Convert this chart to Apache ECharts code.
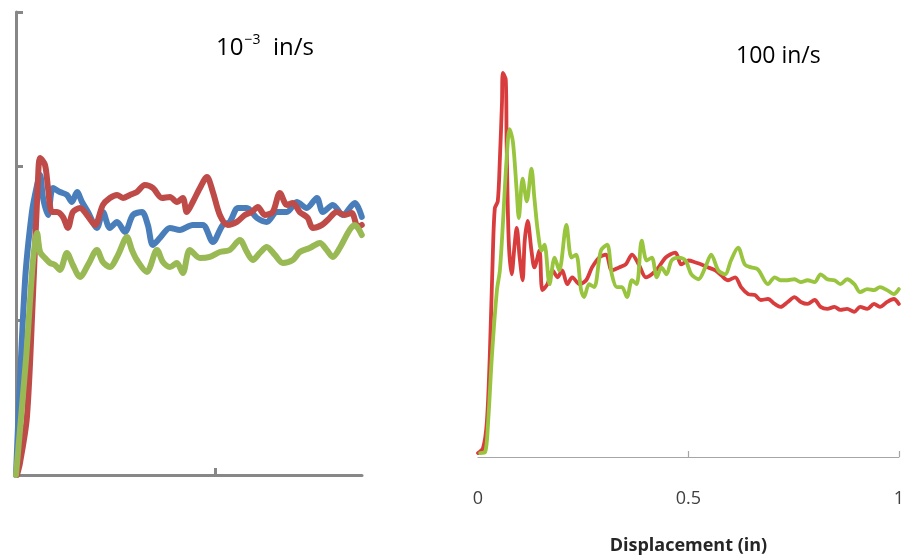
<!DOCTYPE html>
<html>
<head>
<meta charset="utf-8">
<script src="https://cdn.jsdelivr.net/npm/echarts@6/dist/echarts.min.js"></script>
<style>html,body{margin:0;padding:0;background:#fff}#c{width:907px;height:560px}</style>
</head>
<body>
<div id="c"></div>
<script>
// ---- Left panel (10^-3 in/s) ----
const slowTitleBase = '10';
const slowTitleExp = '−3';
const slowTitleUnit = '  in/s';
const leftBlueX = [0,4.5,8.0,10.6,12.1,13.6,16.1,18.6,22.1,25.6,28.1,30.7,33.2,36.2,40.7,43.7,47.2,50.8,54.8,58.8,63.3,66.3,68.8,72.4,77.4,82.4,88.9,94.0,99.0,104.0,107.5,111.6,116.1,121.1,126.1,131.2,136.2,141.2,146.2,151.3,154.3,159.3,164.3,170.4,173.9];
const leftBlueY = [0,125.1,170.4,187.9,194.4,179.5,168.5,186.0,183.4,181.5,176.9,183.4,176.9,170.4,160.1,170.4,160.1,164.0,157.5,168.5,170.4,162.0,149.1,153.6,160.1,158.8,162.0,162.0,151.0,162.0,164.0,173.0,173.0,166.6,164.0,170.4,170.4,176.9,173.0,179.5,170.4,175.0,168.5,176.3,167.2];
const leftRedX = [0.5,2.0,5.5,8.5,11.1,12.1,14.6,16.1,18.1,20.6,23.6,26.1,28.6,32.2,35.7,39.7,43.7,47.2,50.8,53.8,57.3,60.8,64.8,68.8,73.4,77.4,80.9,83.9,85.9,88.9,92.5,96.0,99.0,102.5,106.5,111.1,115.1,118.6,121.6,125.1,129.1,132.7,136.2,139.2,142.7,146.7,149.2,153.8,156.8,161.3,165.3,168.8,171.9,173.9];
const leftRedY = [0,7.8,37.6,115.4,192.5,205.4,200.9,186.0,170.4,170.4,167.2,160.1,170.4,173.0,168.5,162.0,175.0,179.5,181.5,179.5,181.5,183.4,187.9,186.0,179.5,180.2,176.9,179.5,170.4,176.9,186.0,193.1,183.4,168.5,162.0,164.0,168.5,170.4,173.7,168.5,170.4,182.8,175.0,176.3,170.4,166.6,160.1,162.0,165.3,170.4,168.5,169.8,160.7,162.0];
const leftGreenX = [0,5.0,8.5,10.6,12.1,14.6,17.1,19.6,22.1,25.6,28.6,32.2,36.2,40.7,43.7,47.2,51.3,55.8,58.3,60.8,65.8,70.9,73.9,77.4,80.9,83.9,87.4,92.5,97.5,102.5,107.5,112.6,116.1,119.1,122.6,126.1,130.2,134.2,139.2,142.7,147.7,152.8,156.3,159.3,162.8,167.8,170.4,173.9];
const leftGreenY = [0,74.5,138.0,156.8,144.5,140.6,137.4,136.1,132.9,143.9,136.1,128.3,136.1,145.8,138.0,134.8,142.6,154.2,145.8,139.3,131.6,145.8,138.0,134.8,137.4,130.9,145.8,140.6,141.3,144.5,145.8,152.3,144.5,139.3,143.9,147.8,142.6,137.4,139.3,144.5,147.1,150.4,145.8,141.3,147.1,158.8,162.0,155.5];

// ---- Right panel (100 in/s) ----
const fastTitle = '100 in/s';
const fastXLabel = 'Displacement (in)';
const fastTicks = [0, 0.5, 1];
const rightRedX = [0,0.012,0.021,0.028,0.035,0.040,0.047,0.052,0.057,0.059,0.066,0.068,0.073,0.080,0.087,0.092,0.099,0.106,0.111,0.118,0.127,0.134,0.146,0.153,0.165,0.177,0.189,0.200,0.212,0.224,0.241,0.257,0.271,0.288,0.304,0.318,0.335,0.351,0.366,0.382,0.399,0.413,0.429,0.446,0.469,0.483,0.500,0.517,0.531,0.547,0.564,0.578,0.594,0.611,0.625,0.642,0.658,0.672,0.689,0.705,0.719,0.736,0.752,0.767,0.783,0.800,0.814,0.830,0.847,0.861,0.877,0.894,0.908,0.925,0.941,0.955,0.972,0.988,1.0];
const rightRedY = [4,9,35,102,202,252,259,302,359,389,382,319,219,185,215,232,202,179,219,239,209,192,209,169,175,189,182,189,175,182,175,179,192,202,205,189,192,195,205,195,182,185,192,202,207,195,199,197,195,192,189,184,179,182,172,165,164,159,160,155,152,157,162,157,155,159,152,150,152,149,150,147,152,150,155,152,157,160,155];
const rightGreenX = [0.005,0.017,0.024,0.033,0.045,0.052,0.059,0.068,0.075,0.083,0.092,0.097,0.106,0.116,0.127,0.134,0.142,0.151,0.158,0.170,0.182,0.193,0.210,0.222,0.233,0.245,0.252,0.264,0.276,0.292,0.307,0.318,0.330,0.342,0.354,0.366,0.377,0.389,0.401,0.413,0.425,0.436,0.448,0.460,0.476,0.493,0.507,0.524,0.540,0.554,0.571,0.587,0.601,0.618,0.634,0.649,0.665,0.689,0.705,0.719,0.736,0.752,0.767,0.783,0.800,0.814,0.830,0.847,0.861,0.877,0.894,0.908,0.925,0.941,0.955,0.972,0.988,1.0];
const rightGreenY = [4,5,35,102,169,189,235,302,332,319,269,242,282,259,292,262,229,209,215,175,202,189,235,202,205,169,162,175,172,209,215,185,172,172,162,179,175,219,199,202,182,192,185,199,202,199,185,180,192,205,189,185,199,212,195,192,190,175,182,179,179,180,177,179,177,185,180,179,175,180,175,167,170,169,172,169,165,170];

function zip(xs, ys) { return xs.map((x, i) => [x, ys[i]]); }

const chart = echarts.init(document.getElementById('c'), null, {renderer: 'canvas'});
const font = '"Open Sans", "Liberation Sans", sans-serif';
const axisGray = '#878787';

chart.setOption({
  animation: false,
  backgroundColor: '#ffffff',
  textStyle: {fontFamily: font},
  title: [
    {
      text: '{a|' + slowTitleBase + '}{b|' + slowTitleExp + '}{a|' + slowTitleUnit + '}',
      left: 211, top: 28,
      textStyle: {
        fontWeight: 'normal',
        rich: {
          a: {fontSize: 24, fontWeight: 'normal', fontFamily: font, color: '#000', lineHeight: 30},
          b: {fontSize: 14, fontWeight: 'normal', fontFamily: font, color: '#000', verticalAlign: 'top', lineHeight: 30, padding: [0, 0, 14, 1]}
        }
      }
    },
    {
      text: fastTitle, left: 731, top: 40,
      textStyle: {fontSize: 23, fontWeight: 'normal', fontFamily: font, color: '#000'}
    }
  ],
  grid: [
    {left: 16, top: 12, width: 346, height: 463, containLabel: false},
    {left: 478, top: 62, width: 424, height: 400, containLabel: false}
  ],
  xAxis: [
    {
      type: 'value', gridIndex: 0, min: 0, max: 174, interval: 100,
      axisLine: {show: true, onZero: false, lineStyle: {color: axisGray, width: 3}},
      axisTick: {show: true, inside: true, length: 7, customValues: [100], lineStyle: {color: axisGray, width: 3}},
      axisLabel: {show: false},
      splitLine: {show: false}
    },
    {
      type: 'value', gridIndex: 1, min: 0, max: 1, interval: 0.5,
      axisLine: {show: true, onZero: false, lineStyle: {color: '#a6a6a6', width: 1.2}},
      axisTick: {show: true, inside: true, length: 6, customValues: [0.5, 1], lineStyle: {color: '#a6a6a6', width: 1.2}},
      axisLabel: {show: true, margin: 33, fontSize: 18, color: '#404040', fontFamily: font,
        customValues: fastTicks, formatter: v => String(v)},
      splitLine: {show: false},
      name: fastXLabel, nameLocation: 'middle', nameGap: 80,
      nameTextStyle: {fontSize: 18, fontWeight: 'bold', color: '#262626', fontFamily: font}
    }
  ],
  yAxis: [
    {
      type: 'value', gridIndex: 0, min: 0, max: 300, interval: 100,
      axisLine: {show: true, onZero: false, lineStyle: {color: axisGray, width: 3}},
      axisTick: {show: true, inside: true, length: 7, lineStyle: {color: axisGray, width: 3}},
      axisLabel: {show: false},
      splitLine: {show: false}
    },
    {
      type: 'value', gridIndex: 1, min: 0, max: 400,
      show: false, splitLine: {show: false}
    }
  ],
  series: [
    {type: 'line', xAxisIndex: 0, yAxisIndex: 0, data: zip(leftBlueX, leftBlueY), showSymbol: false, smooth: 0.3,
      lineStyle: {color: '#4a7ebb', width: 6, cap: 'round', join: 'round'}, itemStyle: {color: '#4a7ebb'}},
    {type: 'line', xAxisIndex: 0, yAxisIndex: 0, data: zip(leftRedX, leftRedY), showSymbol: false, smooth: 0.3,
      lineStyle: {color: '#be4b48', width: 6, cap: 'round', join: 'round'}, itemStyle: {color: '#be4b48'}},
    {type: 'line', xAxisIndex: 0, yAxisIndex: 0, data: zip(leftGreenX, leftGreenY), showSymbol: false, smooth: 0.3,
      lineStyle: {color: '#98b954', width: 6, cap: 'round', join: 'round'}, itemStyle: {color: '#98b954'}},
    {type: 'line', xAxisIndex: 1, yAxisIndex: 1, data: zip(rightRedX, rightRedY), showSymbol: false, smooth: 0.3,
      lineStyle: {color: '#d83c3c', width: 3.8, cap: 'round', join: 'round'}, itemStyle: {color: '#d83c3c'}},
    {type: 'line', xAxisIndex: 1, yAxisIndex: 1, data: zip(rightGreenX, rightGreenY), showSymbol: false, smooth: 0.3,
      lineStyle: {color: '#98c43e', width: 3.8, cap: 'round', join: 'round'}, itemStyle: {color: '#98c43e'}}
  ]
});
</script>
</body>
</html>
